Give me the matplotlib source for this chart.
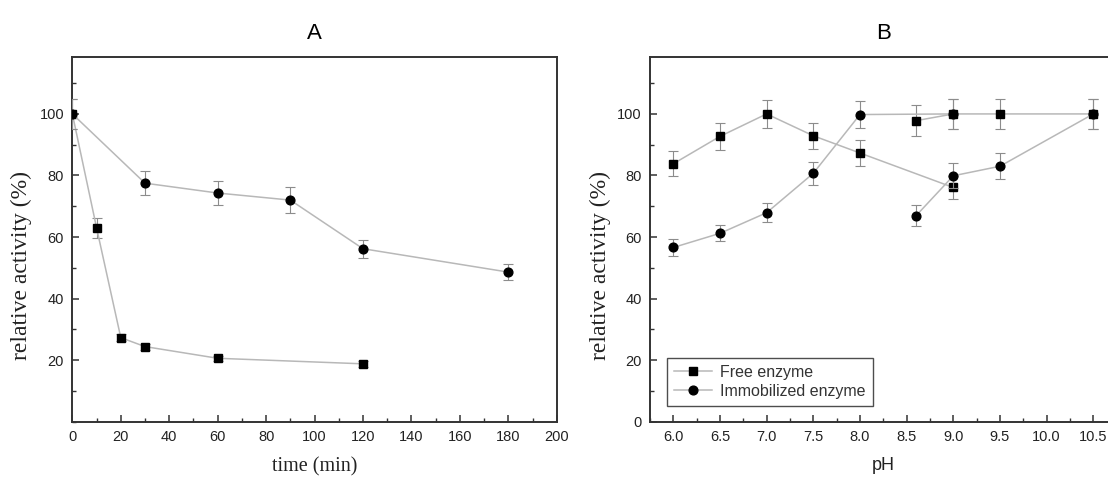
import matplotlib
matplotlib.use("Agg")
import matplotlib.pyplot as plt
from matplotlib.ticker import MultipleLocator, FormatStrFormatter
from matplotlib.lines import Line2D

plt.rcParams['font.family'] = ['Liberation Sans', 'DejaVu Sans']

# A: thermal stability over time
time_free = [0, 10, 20, 30, 60, 120]
act_free = [100, 63, 27.3, 24.4, 20.6, 18.8]
err_free = [5.0, 3.2, 1.2, 1.0, 0.9, 0.9]

time_immob = [0, 30, 60, 90, 120, 180]
act_immob = [100, 77.5, 74.3, 72.0, 56.2, 48.6]
err_immob = [5.0, 4.0, 4.0, 4.2, 2.9, 2.5]

# B: pH profile, two buffer ranges
ph_lo = [6.0, 6.5, 7.0, 7.5, 8.0, 9.0]
free_lo = [83.8, 92.7, 100, 92.9, 87.3, 76.1]
free_lo_err = [4.0, 4.3, 4.5, 4.3, 4.2, 3.6]
immob_lo = [56.6, 61.2, 67.9, 80.7, 99.8, 100]
immob_lo_err = [2.7, 2.6, 3.1, 3.7, 4.5, 5.0]

ph_hi = [8.6, 9.0, 9.5, 10.5]
free_hi = [97.8, 100, 100, 100]
free_hi_err = [5.0, 5.0, 5.0, 5.0]
immob_hi = [66.9, 79.9, 83.0, 100]
immob_hi_err = [3.4, 4.0, 4.2, 5.0]

LINE = '#b8b8b8'
ERR = '#8c8c8c'
SPINE = '#333333'
serif = ['Liberation Serif', 'DejaVu Serif']
MS = {'s': 5.4, 'o': 6.3}


def series(ax, x, y, e, marker, z):
    ax.errorbar(x, y, yerr=e, fmt='none', ecolor=ERR, elinewidth=0.8,
                capsize=3.5, capthick=0.8, zorder=z)
    ax.plot(x, y, color=LINE, lw=1.1, marker=marker, ms=MS[marker],
            mfc='black', mec='black', zorder=z + 1)


def style(ax):
    for s in ax.spines.values():
        s.set_color(SPINE)
        s.set_linewidth(1.4)
    ax.tick_params(which='both', direction='in', top=False, right=False,
                   colors=SPINE, labelcolor='#222222', labelsize=10.5)
    ax.tick_params(which='major', length=5, width=1.1, pad=6)
    ax.tick_params(which='minor', length=3, width=1.0)
    ax.set_ylabel('relative activity (%)', family=serif, fontsize=17,
                  color='#222222', va='center')
    ax.yaxis.set_label_coords(-0.106, 0.427)


fig = plt.figure(figsize=(11.08, 4.8), dpi=100)
axA = fig.add_axes([0.0653, 0.1215, 0.4372, 0.7604])
axB = fig.add_axes([0.5866, 0.1215, 0.4212, 0.7604])

# panel A
series(axA, time_free, act_free, err_free, 's', 2)
series(axA, time_immob, act_immob, err_immob, 'o', 4)
axA.set_xlim(0, 200)
axA.set_ylim(0, 118.6)
axA.xaxis.set_major_locator(MultipleLocator(20))
axA.xaxis.set_minor_locator(MultipleLocator(10))
axA.set_yticks([20, 40, 60, 80, 100])
axA.yaxis.set_minor_locator(MultipleLocator(10))
style(axA)
axA.set_xlabel('time (min)', family=serif, fontsize=14.5, color='#222222',
               va='center')
axA.xaxis.set_label_coords(0.5, -0.123)
axA.set_title('A', fontsize=16, pad=13)

# panel B
series(axB, ph_lo, free_lo, free_lo_err, 's', 2)
series(axB, ph_hi, free_hi, free_hi_err, 's', 2)
series(axB, ph_lo, immob_lo, immob_lo_err, 'o', 4)
series(axB, ph_hi, immob_hi, immob_hi_err, 'o', 4)
axB.set_xlim(5.75, 10.75)
axB.set_ylim(0, 118.6)
axB.xaxis.set_major_locator(MultipleLocator(0.5))
axB.xaxis.set_minor_locator(MultipleLocator(0.25))
axB.xaxis.set_major_formatter(FormatStrFormatter('%.1f'))
axB.set_yticks([0, 20, 40, 60, 80, 100])
axB.yaxis.set_minor_locator(MultipleLocator(10))
style(axB)
axB.set_xlabel('pH', fontsize=13, color='#222222', va='center')
axB.xaxis.set_label_coords(0.5, -0.12)
axB.set_title('B', fontsize=16, pad=13)

handles = [
    Line2D([], [], color=LINE, lw=1.1, marker='s', ms=MS['s'], mfc='black', mec='black'),
    Line2D([], [], color=LINE, lw=1.1, marker='o', ms=MS['o'], mfc='black', mec='black'),
]
leg = axB.legend(handles, ['Free enzyme', 'Immobilized enzyme'], loc='lower left',
                 bbox_to_anchor=(0.036, 0.043), borderaxespad=0, fontsize=11.5,
                 frameon=True, fancybox=False, handlelength=2.4,
                 handletextpad=0.5, borderpad=0.45, labelspacing=0.25)
leg.get_frame().set_edgecolor('#222222')
leg.get_frame().set_linewidth(1.0)
for t in leg.get_texts():
    t.set_color('#333333')

fig.savefig('out.png', dpi=100)
